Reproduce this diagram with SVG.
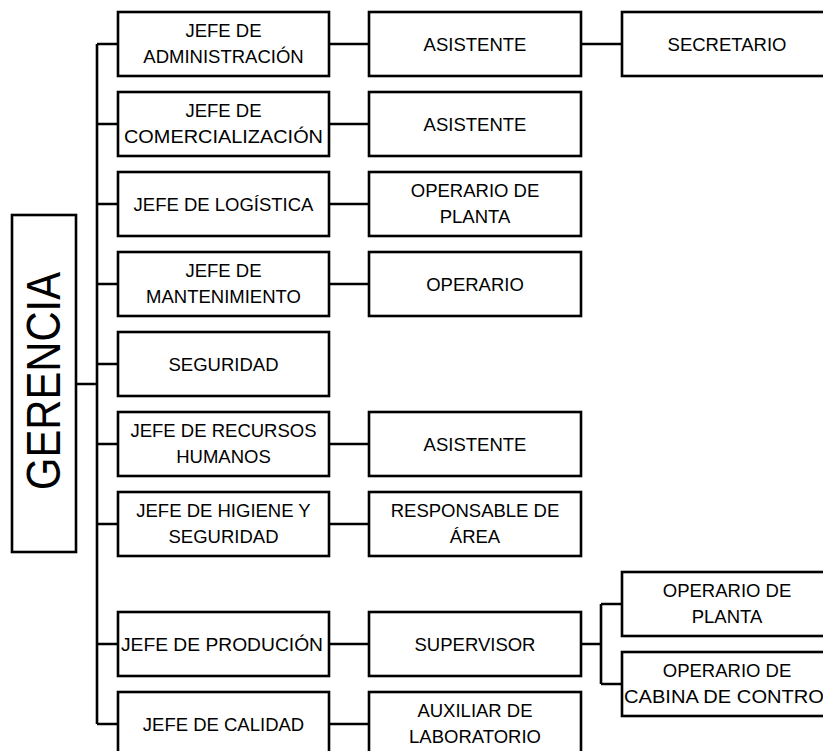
<svg xmlns="http://www.w3.org/2000/svg" width="823" height="751" viewBox="0 0 823 751">
<style>
.box{fill:#fff;stroke:#000;stroke-width:2.6}
.ln{fill:none;stroke:#000;stroke-width:2.6}
text{font-family:"Liberation Sans",Arial,sans-serif;font-size:18.5px;fill:#000;text-anchor:middle}
.big{font-size:48px}
</style>
<rect width="823" height="751" fill="#fff"/>
<g id="connectors">
<path class="ln" d="M76,384 H97 M97,44 V724 M97,44 H118 M97,124 H118 M97,204 H118 M97,284 H118 M97,364 H118 M97,444 H118 M97,524 H118 M97,644 H118 M97,724 H118"/>
<path class="ln" d="M329,44 H369 M329,124 H369 M329,204 H369 M329,284 H369 M329,444 H369 M329,524 H369 M329,644 H369 M329,724 H369"/>
<path class="ln" d="M581,44 H622 M581,644 H601 M601,604 V684 M601,604 H622 M601,684 H622"/>
</g>
<g id="gerencia"><rect class="box" x="12" y="215" width="64" height="337"/><text class="big" transform="translate(60,381) rotate(-90)" textLength="218" lengthAdjust="spacingAndGlyphs">GERENCIA</text></g>
<g id="jefe-admin"><rect class="box" x="118" y="12" width="211" height="64"/><text x="223.5" y="37">JEFE DE</text><text x="223.5" y="63">ADMINISTRACIÓN</text></g>
<g id="jefe-comer"><rect class="box" x="118" y="92" width="211" height="64"/><text x="223.5" y="117">JEFE DE</text><text x="223.5" y="143" textLength="199" lengthAdjust="spacingAndGlyphs">COMERCIALIZACIÓN</text></g>
<g id="jefe-logistica"><rect class="box" x="118" y="172" width="211" height="64"/><text x="223.5" y="211">JEFE DE LOGÍSTICA</text></g>
<g id="jefe-mant"><rect class="box" x="118" y="252" width="211" height="64"/><text x="223.5" y="277">JEFE DE</text><text x="223.5" y="303">MANTENIMIENTO</text></g>
<g id="seguridad"><rect class="box" x="118" y="332" width="211" height="64"/><text x="223.5" y="371">SEGURIDAD</text></g>
<g id="jefe-rrhh"><rect class="box" x="118" y="412" width="211" height="64"/><text x="223.5" y="437">JEFE DE RECURSOS</text><text x="223.5" y="463">HUMANOS</text></g>
<g id="jefe-higiene"><rect class="box" x="118" y="492" width="211" height="64"/><text x="223.5" y="517">JEFE DE HIGIENE Y</text><text x="223.5" y="543">SEGURIDAD</text></g>
<g id="jefe-produccion"><rect class="box" x="118" y="612" width="211" height="64"/><text x="222" y="651" textLength="202" lengthAdjust="spacingAndGlyphs">JEFE DE PRODUCIÓN</text></g>
<g id="jefe-calidad"><rect class="box" x="118" y="692" width="211" height="64"/><text x="223.5" y="731">JEFE DE CALIDAD</text></g>
<g id="asistente-1"><rect class="box" x="369" y="12" width="212" height="64"/><text x="475" y="51">ASISTENTE</text></g>
<g id="asistente-2"><rect class="box" x="369" y="92" width="212" height="64"/><text x="475" y="131">ASISTENTE</text></g>
<g id="operario-planta-1"><rect class="box" x="369" y="172" width="212" height="64"/><text x="475" y="197">OPERARIO DE</text><text x="475" y="223">PLANTA</text></g>
<g id="operario"><rect class="box" x="369" y="252" width="212" height="64"/><text x="475" y="291">OPERARIO</text></g>
<g id="asistente-3"><rect class="box" x="369" y="412" width="212" height="64"/><text x="475" y="451">ASISTENTE</text></g>
<g id="responsable"><rect class="box" x="369" y="492" width="212" height="64"/><text x="475" y="517">RESPONSABLE DE</text><text x="475" y="543">ÁREA</text></g>
<g id="supervisor"><rect class="box" x="369" y="612" width="212" height="64"/><text x="475" y="651">SUPERVISOR</text></g>
<g id="auxiliar"><rect class="box" x="369" y="692" width="212" height="64"/><text x="475" y="717">AUXILIAR DE</text><text x="475" y="743">LABORATORIO</text></g>
<g id="secretario"><rect class="box" x="622" y="12" width="220" height="64"/><text x="727" y="51">SECRETARIO</text></g>
<g id="operario-planta-2"><rect class="box" x="622" y="572" width="220" height="64"/><text x="727" y="597">OPERARIO DE</text><text x="727" y="623">PLANTA</text></g>
<g id="operario-cabina"><rect class="box" x="622" y="652" width="220" height="64"/><text x="727" y="677">OPERARIO DE</text><text x="624" y="703" style="text-anchor:start" textLength="200" lengthAdjust="spacingAndGlyphs">CABINA DE CONTRO</text></g>
</svg>
